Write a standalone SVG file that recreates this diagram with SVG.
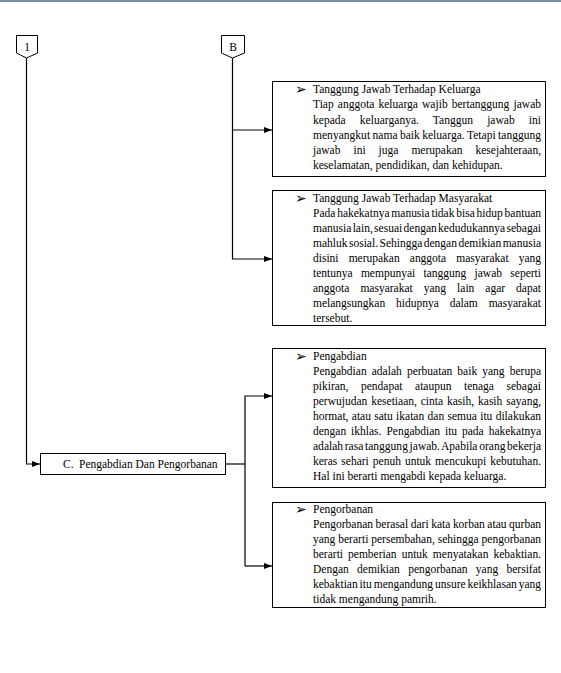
<svg xmlns="http://www.w3.org/2000/svg" width="561" height="673" viewBox="0 0 561 673">
<defs>
<marker id="ah" markerWidth="8" markerHeight="6" refX="8" refY="3" orient="auto" markerUnits="userSpaceOnUse">
<path d="M0,0 L8,3 L0,6 Z" fill="#000"/>
</marker>
</defs>
<style>
.t{font-family:"Liberation Serif","Times New Roman",serif;font-size:11.5px;fill:#000}
.b{font-family:"DejaVu Sans",sans-serif;font-size:14px;fill:#000}
.box{fill:#fff;stroke:#000;stroke-width:1}
.pent{fill:#fff;stroke:#000;stroke-width:1}
.ln{fill:none;stroke:#000;stroke-width:1.2}
</style>
<rect x="0" y="0" width="561" height="673" fill="#fff"/>
<rect x="0" y="0" width="561" height="2" fill="#7f8da2"/>

<g id="connectors">
<path class="ln" d="M26.5,58 V464 H40" marker-end="url(#ah)"/>
<path class="ln" d="M232.5,58 V259 H272" marker-end="url(#ah)"/>
<path class="ln" d="M232.5,130 H272" marker-end="url(#ah)"/>
<path class="ln" d="M225,464 H245"/>
<path class="ln" d="M245,566 V396 H272" marker-end="url(#ah)"/>
<path class="ln" d="M245,566 H272" marker-end="url(#ah)"/>
</g>

<g id="conn-1">
<path class="pent" d="M16.5,35.5 H37.5 V53 L26.5,58 L16.5,53 Z"/>
<text class="t" x="27" y="51" text-anchor="middle">1</text>
</g>

<g id="conn-B">
<path class="pent" d="M221.5,35.5 H244.5 V53 L232.5,58 L221.5,53 Z"/>
<text class="t" x="233" y="51" text-anchor="middle">B</text>
</g>

<g id="node-C">
<rect class="box" x="40.5" y="453.5" width="185" height="21"/>
<text class="t" x="63" y="468">C.</text>
<text class="t" x="79" y="468">Pengabdian Dan Pengorbanan</text>
</g>

<g id="node-keluarga">
<rect class="box" x="272.5" y="81.5" width="273" height="95"/>
<text class="b" x="295" y="94">➢</text>
<text class="t" x="313" y="93">Tanggung Jawab Terhadap Keluarga</text>
<text class="t" x="313" y="108.2" textLength="228" lengthAdjust="spacing" style="word-spacing:1.2px">Tiap anggota keluarga wajib bertanggung jawab</text>
<text class="t" x="313" y="123.5" textLength="228" lengthAdjust="spacing" style="word-spacing:11.1px">kepada keluarganya. Tanggun jawab ini</text>
<text class="t" x="313" y="138.8" textLength="228" lengthAdjust="spacing" style="word-spacing:-0.5px">menyangkut nama baik keluarga. Tetapi tanggung</text>
<text class="t" x="313" y="154.1" textLength="228" lengthAdjust="spacing" style="word-spacing:10.1px">jawab ini juga merupakan kesejahteraan,</text>
<text class="t" x="313" y="169.4">keselamatan, pendidikan, dan kehidupan.</text>
</g>

<g id="node-masyarakat">
<rect class="box" x="272.5" y="190.5" width="273" height="135"/>
<text class="b" x="295" y="203">➢</text>
<text class="t" x="313" y="202">Tanggung Jawab Terhadap Masyarakat</text>
<text class="t" x="313" y="217" textLength="228" lengthAdjust="spacing" style="word-spacing:-1.07px">Pada hakekatnya manusia tidak bisa hidup bantuan</text>
<text class="t" x="313" y="232" textLength="228" lengthAdjust="spacing" style="word-spacing:-1.66px">manusia lain, sesuai dengan kedudukannya sebagai</text>
<text class="t" x="313" y="247" textLength="228" lengthAdjust="spacing" style="word-spacing:-1.42px">mahluk sosial. Sehingga dengan demikian manusia</text>
<text class="t" x="313" y="262" textLength="228" lengthAdjust="spacing" style="word-spacing:7.2px">disini merupakan anggota masyarakat yang</text>
<text class="t" x="313" y="277" textLength="228" lengthAdjust="spacing" style="word-spacing:5.4px">tentunya mempunyai tanggung jawab seperti</text>
<text class="t" x="313" y="292" textLength="228" lengthAdjust="spacing" style="word-spacing:8.1px">anggota masyarakat yang lain agar dapat</text>
<text class="t" x="313" y="307" textLength="228" lengthAdjust="spacing" style="word-spacing:8px">melangsungkan hidupnya dalam masyarakat</text>
<text class="t" x="313" y="322">tersebut.</text>
</g>

<g id="node-pengabdian">
<rect class="box" x="272.5" y="348.5" width="273" height="139"/>
<text class="b" x="295" y="360.5">➢</text>
<text class="t" x="313" y="359.5">Pengabdian</text>
<text class="t" x="313" y="374.6" textLength="228" lengthAdjust="spacing" style="word-spacing:2.23px">Pengabdian adalah perbuatan baik yang berupa</text>
<text class="t" x="313" y="389.7" textLength="228" lengthAdjust="spacing" style="word-spacing:9.65px">pikiran, pendapat ataupun tenaga sebagai</text>
<text class="t" x="313" y="404.8" textLength="228" lengthAdjust="spacing" style="word-spacing:1px">perwujudan kesetiaan, cinta kasih, kasih sayang,</text>
<text class="t" x="313" y="419.9" textLength="228" lengthAdjust="spacing" style="word-spacing:0.45px">hormat, atau satu ikatan dan semua itu dilakukan</text>
<text class="t" x="313" y="435" textLength="228" lengthAdjust="spacing" style="word-spacing:2.04px">dengan ikhlas. Pengabdian itu pada hakekatnya</text>
<text class="t" x="313" y="450.1" textLength="228" lengthAdjust="spacing" style="word-spacing:-1.23px">adalah rasa tanggung jawab. Apabila orang bekerja</text>
<text class="t" x="313" y="465.2" textLength="228" lengthAdjust="spacing" style="word-spacing:1.14px">keras sehari penuh untuk mencukupi kebutuhan.</text>
<text class="t" x="313" y="480.3">Hal ini berarti mengabdi kepada keluarga.</text>
</g>

<g id="node-pengorbanan">
<rect class="box" x="272.5" y="502.5" width="273" height="105"/>
<text class="b" x="295" y="514">➢</text>
<text class="t" x="313" y="513">Pengorbanan</text>
<text class="t" x="313" y="528" textLength="228" lengthAdjust="spacing" style="word-spacing:-0.32px">Pengorbanan berasal dari kata korban atau qurban</text>
<text class="t" x="313" y="543" textLength="228" lengthAdjust="spacing">yang berarti persembahan, sehingga pengorbanan</text>
<text class="t" x="313" y="558" textLength="228" lengthAdjust="spacing" style="word-spacing:2.15px">berarti pemberian untuk menyatakan kebaktian.</text>
<text class="t" x="313" y="573" textLength="228" lengthAdjust="spacing" style="word-spacing:5.4px">Dengan demikian pengorbanan yang bersifat</text>
<text class="t" x="313" y="588" textLength="228" lengthAdjust="spacing" style="word-spacing:-0.96px">kebaktian itu mengandung unsure keikhlasan yang</text>
<text class="t" x="313" y="603">tidak mengandung pamrih.</text>
</g>
</svg>
